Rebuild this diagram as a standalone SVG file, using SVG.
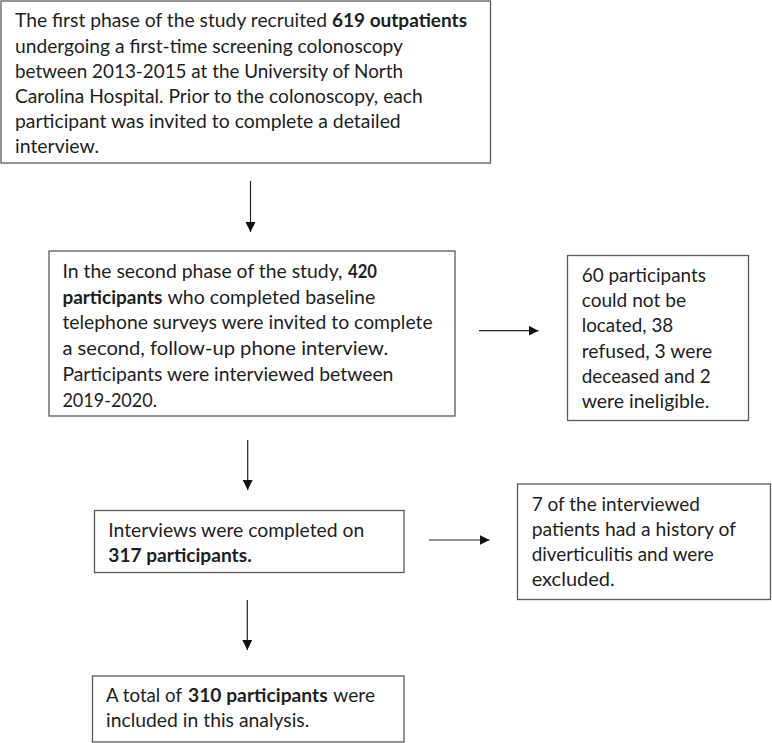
<svg xmlns="http://www.w3.org/2000/svg" width="772" height="743" viewBox="0 0 772 743">
<style>
  .box { fill: #ffffff; stroke: #5a5a5a; stroke-width: 1.3; }
  .t { font-family: Lato, "Open Sans", "Liberation Sans", sans-serif; font-size: 19.6px; fill: #1e1e1e; }
  .b { font-weight: bold; }
  .con { stroke: #222222; stroke-width: 1.2; fill: none; marker-end: url(#ah); }
</style>
<defs>
  <marker id="ah" markerUnits="userSpaceOnUse" markerWidth="11" markerHeight="11" refX="10" refY="5" orient="auto">
    <path d="M0,0 L10,5 L0,10 Z" fill="#111111"/>
  </marker>
</defs>
<rect x="0" y="0" width="772" height="743" fill="#ffffff"/>

<g id="connectors">
  <line class="con" x1="250.5" y1="181" x2="250.5" y2="232"/>
  <line class="con" x1="479" y1="330.7" x2="538.5" y2="330.7"/>
  <line class="con" x1="247.7" y1="440" x2="247.7" y2="490"/>
  <line class="con" x1="429" y1="540" x2="489.5" y2="540"/>
  <line class="con" x1="247.3" y1="600" x2="247.3" y2="650"/>
</g>

<g id="node1">
  <rect class="box" x="1" y="1" width="489.5" height="162"/>
  <text class="t" x="15" y="27.3" textLength="312" lengthAdjust="spacingAndGlyphs">The first phase of the study recruited</text>
  <text class="t b" x="332" y="27.3" textLength="135" lengthAdjust="spacingAndGlyphs">619 outpatients</text>
  <text class="t" x="15" y="52.5" textLength="388" lengthAdjust="spacingAndGlyphs">undergoing a first-time screening colonoscopy</text>
  <text class="t" x="15" y="77.7" textLength="388" lengthAdjust="spacingAndGlyphs">between 2013-2015 at the University of North</text>
  <text class="t" x="15" y="102.9" textLength="407.7" lengthAdjust="spacingAndGlyphs">Carolina Hospital. Prior to the colonoscopy, each</text>
  <text class="t" x="15" y="128.1" textLength="385.7" lengthAdjust="spacingAndGlyphs">participant was invited to complete a detailed</text>
  <text class="t" x="15" y="153.3" textLength="84" lengthAdjust="spacingAndGlyphs">interview.</text>
</g>

<g id="node2">
  <rect class="box" x="49" y="251" width="406" height="165"/>
  <text class="t" x="62.4" y="277.7" textLength="280" lengthAdjust="spacingAndGlyphs">In the second phase of the study,</text>
  <text class="t b" x="348" y="277.7" textLength="29" lengthAdjust="spacingAndGlyphs">420</text>
  <text class="t b" x="62.4" y="303.5" textLength="100" lengthAdjust="spacingAndGlyphs">participants</text>
  <text class="t" x="167.5" y="303.5" textLength="207.8" lengthAdjust="spacingAndGlyphs">who completed baseline</text>
  <text class="t" x="62.4" y="329.3" textLength="370.3" lengthAdjust="spacingAndGlyphs">telephone surveys were invited to complete</text>
  <text class="t" x="62.4" y="355.1" textLength="325.8" lengthAdjust="spacingAndGlyphs">a second, follow-up phone interview.</text>
  <text class="t" x="62.4" y="380.9" textLength="331" lengthAdjust="spacingAndGlyphs">Participants were interviewed between</text>
  <text class="t" x="62.4" y="406.7" textLength="94.6" lengthAdjust="spacingAndGlyphs">2019-2020.</text>
</g>

<g id="node3">
  <rect class="box" x="567.5" y="255.5" width="181" height="165"/>
  <text class="t" x="581.7" y="281.7" textLength="124.3" lengthAdjust="spacingAndGlyphs">60 participants</text>
  <text class="t" x="581.7" y="307" textLength="104.3" lengthAdjust="spacingAndGlyphs">could not be</text>
  <text class="t" x="581.7" y="332.3" textLength="91.6" lengthAdjust="spacingAndGlyphs">located, 38</text>
  <text class="t" x="581.7" y="357.6" textLength="130.6" lengthAdjust="spacingAndGlyphs">refused, 3 were</text>
  <text class="t" x="581.7" y="382.9" textLength="129" lengthAdjust="spacingAndGlyphs">deceased and 2</text>
  <text class="t" x="581.7" y="408.2" textLength="127.6" lengthAdjust="spacingAndGlyphs">were ineligible.</text>
</g>

<g id="node4">
  <rect class="box" x="94.5" y="510.5" width="309.5" height="62"/>
  <text class="t" x="108.3" y="537.3" textLength="256" lengthAdjust="spacingAndGlyphs">Interviews were completed on</text>
  <text class="t b" x="108.3" y="562.3" textLength="143.4" lengthAdjust="spacingAndGlyphs">317 participants.</text>
</g>

<g id="node5">
  <rect class="box" x="517.5" y="484" width="253" height="115.5"/>
  <text class="t" x="531.7" y="511" textLength="168.3" lengthAdjust="spacingAndGlyphs">7 of the interviewed</text>
  <text class="t" x="531.7" y="536" textLength="204.3" lengthAdjust="spacingAndGlyphs">patients had a history of</text>
  <text class="t" x="531.7" y="561" textLength="182" lengthAdjust="spacingAndGlyphs">diverticulitis and were</text>
  <text class="t" x="531.7" y="586" textLength="83" lengthAdjust="spacingAndGlyphs">excluded.</text>
</g>

<g id="node6">
  <rect class="box" x="92.5" y="676" width="311.5" height="66"/>
  <text class="t" x="106" y="702.3" textLength="76" lengthAdjust="spacingAndGlyphs">A total of</text>
  <text class="t b" x="188" y="702.3" textLength="139.7" lengthAdjust="spacingAndGlyphs">310 participants</text>
  <text class="t" x="333.3" y="702.3" textLength="41.7" lengthAdjust="spacingAndGlyphs">were</text>
  <text class="t" x="106" y="726.7" textLength="203.3" lengthAdjust="spacingAndGlyphs">included in this analysis.</text>
</g>
</svg>
